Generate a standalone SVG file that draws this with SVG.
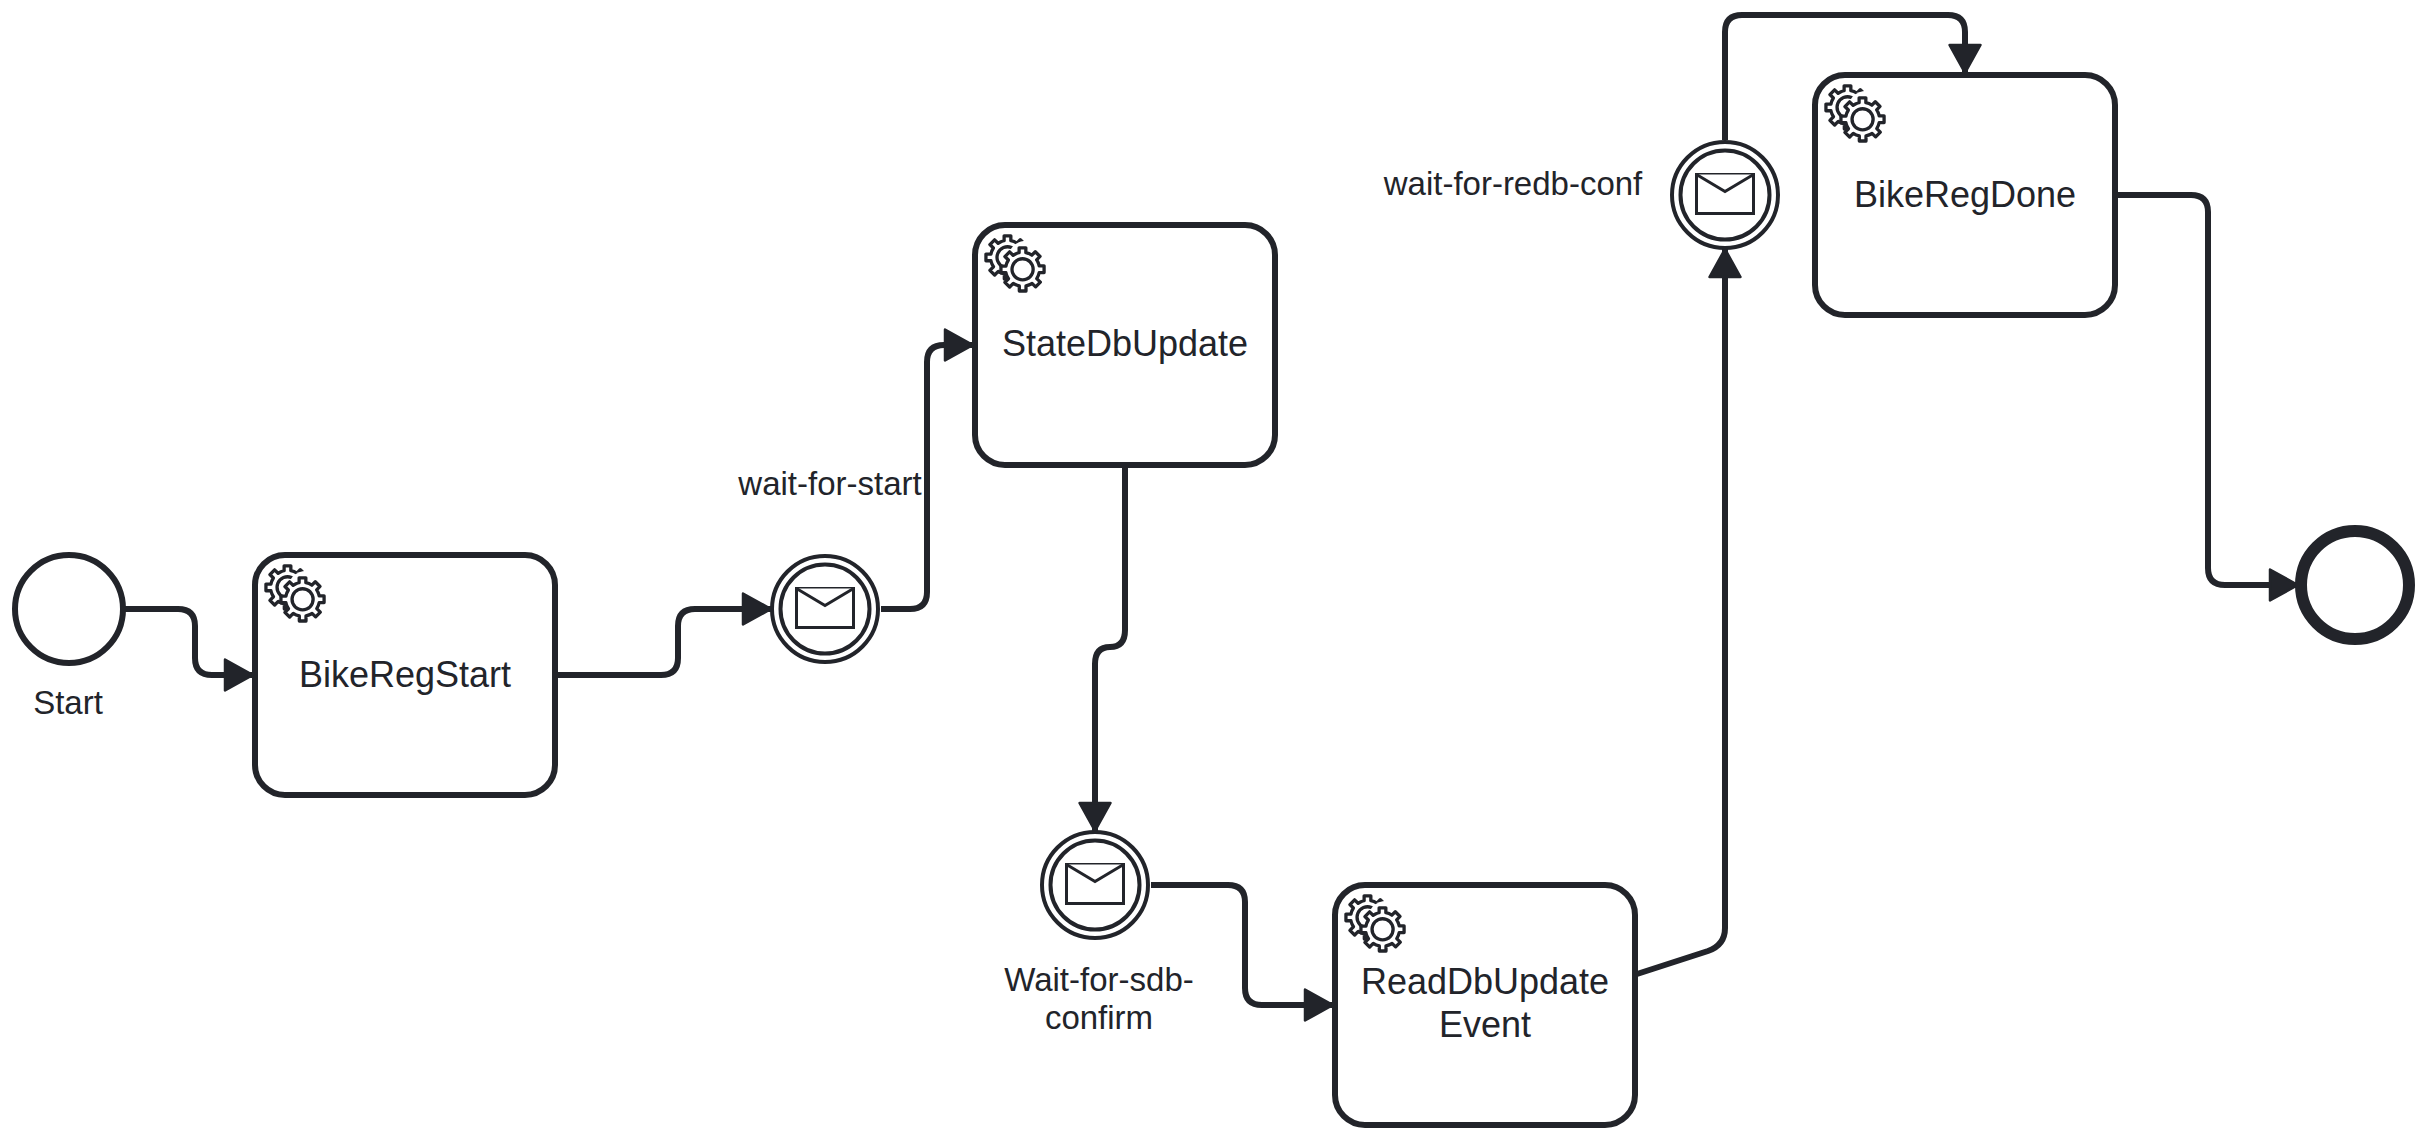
<svg xmlns="http://www.w3.org/2000/svg" xmlns:xlink="http://www.w3.org/1999/xlink" width="2427" height="1140" viewBox="0 0 2427 1140">
<style>
text{font-family:"Liberation Sans",Arial,sans-serif;fill:#22242a;text-anchor:middle}
.tl{font-size:36px}
.el{font-size:33px}
.task{fill:#fff;stroke:#22242a;stroke-width:6}
.ev{fill:#fff;stroke:#22242a;stroke-width:4}
.cn{fill:none;stroke:#22242a;stroke-width:6}
.env{fill:#fff;stroke:#22242a;stroke-width:3}
.gear{fill:#fff;stroke:#22242a;stroke-width:1.1;stroke-linejoin:round}
.hole{fill:#fff;stroke:none}
</style>
<defs>
<marker id="arrow" markerUnits="userSpaceOnUse" markerWidth="36" markerHeight="38" refX="32" refY="19" orient="auto">
<path d="M4 3.5 L32 19 L4 34.5 Z" fill="#22242a" stroke="#22242a" stroke-width="2.5" stroke-linejoin="round"/>
</marker>
<path id="gearp" d="m 0,0 v -1.71335 c 0.352326,-0.0705 0.703932,-0.17838 1.047628,-0.32133 0.344416,-0.14465 0.665822,-0.32133 0.966377,-0.52145 l 1.19431,1.18005 1.567487,-1.57688 -1.195028,-1.18014 c 0.403376,-0.61394 0.683079,-1.29908 0.825447,-2.01824 l 1.622133,-0.01 v -2.2196 l -1.636514,0.01 c -0.07333,-0.35153 -0.178319,-0.70024 -0.323564,-1.04372 -0.145244,-0.34406 -0.321407,-0.6644 -0.522735,-0.96217 l 1.131035,-1.13631 -1.583305,-1.56293 -1.129598,1.13589 c -0.614052,-0.40108 -1.302883,-0.68093 -2.022633,-0.82247 l 0.0093,-1.61852 h -2.241173 l 0.0042,1.63124 c -0.353763,0.0736 -0.705369,0.17977 -1.049785,0.32371 -0.344415,0.14437 -0.665102,0.32092 -0.9635006,0.52046 l -1.1698628,-1.15823 -1.5667691,1.5792 1.1684265,1.15669 c -0.4026573,0.61283 -0.68308,1.29797 -0.8247287,2.01713 l -1.6588041,0.003 v 2.22174 l 1.6724648,-0.006 c 0.073327,0.35077 0.1797598,0.70243 0.3242851,1.04472 0.1452428,0.34448 0.3214064,0.6644 0.5227339,0.96066 l -1.1993431,1.19723 1.5840256,1.56011 1.1964668,-1.19348 c 0.6140517,0.40346 1.3028827,0.68232 2.0233517,0.82331 l 7.19e-4,1.69892 h 2.226848 z m 0.221462,-3.9957 c -1.788948,0.7502 -3.8576,-0.0928 -4.6097055,-1.87438 -0.7521065,-1.78321 0.090598,-3.84627 1.8802645,-4.59604 1.78823,-0.74936 3.856881,0.0929 4.608987,1.87437 0.752106,1.78165 -0.0906,3.84612 -1.879546,4.59605 z"/>
<g id="gears">
<use xlink:href="#gearp" href="#gearp" class="gear" transform="translate(12,18)"/>
<path class="hole" d="m 17.2,18 c 3.526979,0 6.386161,-2.85918 6.386161,-6.38616 0,-3.52698 -2.859182,-6.38616 -6.386161,-6.38616 -3.526978,0 -6.38616,2.85918 -6.38616,6.38616 0,3.52698 2.859182,6.38616 6.38616,6.38616 z"/>
<use xlink:href="#gearp" href="#gearp" class="gear" transform="translate(17,22)"/>
</g>
<g id="envelope">
<rect class="env" x="-28.5" y="-19.5" width="57" height="39"/>
<path class="env" d="M-28.5 -19.5 L0 -2.5 L28.5 -19.5"/>
</g>
</defs>
<rect width="2427" height="1140" fill="#fff"/>
<g id="connectors">
<path class="cn" marker-end="url(#arrow)" d="M125 609 H178 Q195 609 195 626 V658 Q195 675 212 675 H253"/>
<path class="cn" marker-end="url(#arrow)" d="M558 675 H661 Q678 675 678 658 V626 Q678 609 695 609 H771"/>
<path class="cn" marker-end="url(#arrow)" d="M881 609 H910 Q927 609 927 592 V362 Q927 345 944 345 H973"/>
<path class="cn" marker-end="url(#arrow)" d="M1125 467 V630 Q1125 647 1110 647 Q1095 647 1095 664 V831"/>
<path class="cn" marker-end="url(#arrow)" d="M1151 885 H1228 Q1245 885 1245 902 V988 Q1245 1005 1262 1005 H1333"/>
<path class="cn" marker-end="url(#arrow)" d="M1637 974 L1708 951 Q1725 945 1725 928 V249"/>
<path class="cn" marker-end="url(#arrow)" d="M1725 140 V32 Q1725 15 1742 15 H1948 Q1965 15 1965 32 V73"/>
<path class="cn" marker-end="url(#arrow)" d="M2116 195 H2191 Q2208 195 2208 212 V568 Q2208 585 2225 585 H2298"/>
</g>
<g id="start"><circle cx="69" cy="609" r="54" fill="#fff" stroke="#22242a" stroke-width="6"/><text class="el" x="68" y="714">Start</text></g>
<g id="bikeRegStart"><rect class="task" x="255" y="555" width="300" height="240" rx="30"/><use xlink:href="#gears" href="#gears" transform="translate(255,555) scale(3)"/><text class="tl" x="405" y="687">BikeRegStart</text></g>
<g id="waitForStart"><circle class="ev" cx="825" cy="609" r="53"/><circle class="ev" cx="825" cy="609" r="44.5"/><use xlink:href="#envelope" href="#envelope" transform="translate(825,608)"/><text class="el" x="830" y="495">wait-for-start</text></g>
<g id="stateDbUpdate"><rect class="task" x="975" y="225" width="300" height="240" rx="30"/><use xlink:href="#gears" href="#gears" transform="translate(975,225) scale(3)"/><text class="tl" x="1125" y="356">StateDbUpdate</text></g>
<g id="waitForSdb"><circle class="ev" cx="1095" cy="885" r="53"/><circle class="ev" cx="1095" cy="885" r="44.5"/><use xlink:href="#envelope" href="#envelope" transform="translate(1095,884)"/><text class="el" x="1099" y="991">Wait-for-sdb-</text><text class="el" x="1099" y="1029">confirm</text></g>
<g id="readDbUpdate"><rect class="task" x="1335" y="885" width="300" height="240" rx="30"/><use xlink:href="#gears" href="#gears" transform="translate(1335,885) scale(3)"/><text class="tl" x="1485" y="994">ReadDbUpdate</text><text class="tl" x="1485" y="1037">Event</text></g>
<g id="waitForRedb"><circle class="ev" cx="1725" cy="195" r="53"/><circle class="ev" cx="1725" cy="195" r="44.5"/><use xlink:href="#envelope" href="#envelope" transform="translate(1725,194)"/><text class="el" x="1513" y="195">wait-for-redb-conf</text></g>
<g id="bikeRegDone"><rect class="task" x="1815" y="75" width="300" height="240" rx="30"/><use xlink:href="#gears" href="#gears" transform="translate(1815,75) scale(3)"/><text class="tl" x="1965" y="207">BikeRegDone</text></g>
<g id="end"><circle cx="2355" cy="585" r="54" fill="#fff" stroke="#22242a" stroke-width="12"/></g>
</svg>
